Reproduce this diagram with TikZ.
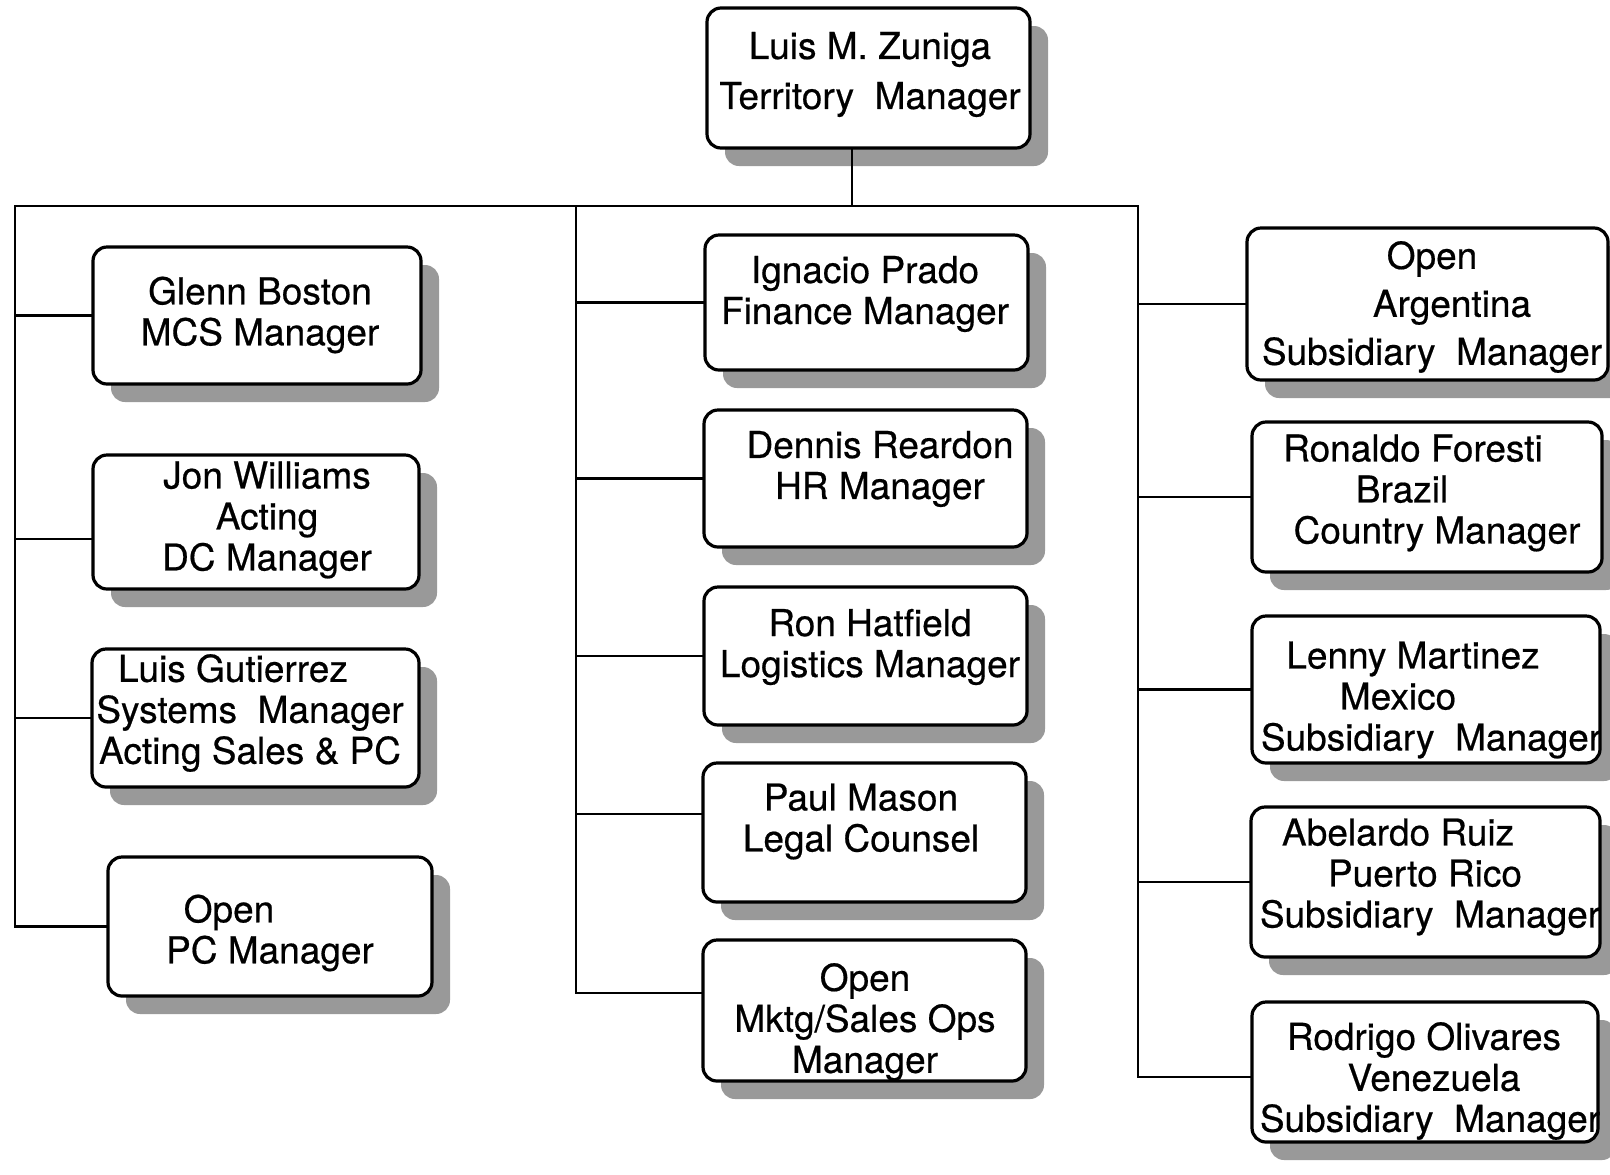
\documentclass[tikz,border=0pt]{standalone}
\usepackage{fontspec}
\setmainfont{TeX Gyre Heros}[FakeBold=0.5]
\usetikzlibrary{shadows}
% shift one line of a centred caption sideways without changing its width
\newcommand\nudge[2]{\hbox{\kern#1\relax #2\kern-#1\relax}}
\begin{document}
\begin{tikzpicture}[x=0.5pt,y=-0.5pt,
  card/.style={draw, line width=1.6pt, rounded corners=7pt, fill=white, inner sep=0pt,
    drop shadow={shadow xshift=9pt, shadow yshift=-9pt, fill=black!40, opacity=1}},
  caption/.style={align=center, inner sep=0pt, font=\fontsize{18.5}{20.5}\selectfont},
  link/.style={line width=1.35pt, line cap=rect}]

\fill[white] (0,0) rectangle (1610,1174);
\useasboundingbox (0,0) rectangle (1610,1174);

% ---- head of territory
\node[card, minimum width=161.5pt, minimum height=70pt] (top) at (868.5,78) {};
\node[caption, font=\fontsize{18.5}{25}\selectfont] (topT) at (870,74.5) {Luis M. Zuniga\\Territory~~Manager};

% ---- left column
\node[card, minimum width=164pt, minimum height=68.5pt] (L1) at (257,315.5) {};
\node[caption] (L1T) at (260,315) {Glenn Boston\\MCS Manager};
\node[card, minimum width=163pt, minimum height=67pt] (L2) at (256,522) {};
\node[caption] (L2T) at (267,520) {Jon Williams\\Acting\\DC Manager};
\node[card, minimum width=163.5pt, minimum height=69pt] (L3) at (255.5,718) {};
\node[caption] (L3T) at (250,713) {\nudge{-8.5pt}{Luis Gutierrez}\\Systems~~Manager\\Acting Sales \& PC};
\node[card, minimum width=162pt, minimum height=69.5pt] (L4) at (270,926.5) {};
\node[caption] (L4T) at (270,933) {\nudge{-20.5pt}{Open}\\PC Manager};

% ---- middle column
\node[card, minimum width=161.5pt, minimum height=67.5pt] (M1) at (866.5,302.5) {};
\node[caption] (M1T) at (865,294) {Ignacio Prado\\Finance Manager};
\node[card, minimum width=161.5pt, minimum height=68.5pt] (M2) at (865.5,478.5) {};
\node[caption] (M2T) at (880,469) {Dennis Reardon\\HR Manager};
\node[card, minimum width=161.5pt, minimum height=69pt] (M3) at (865.5,656) {};
\node[caption] (M3T) at (870,647) {Ron Hatfield\\Logistics Manager};
\node[card, minimum width=161.5pt, minimum height=69.5pt] (M4) at (864.5,832.5) {};
\node[caption] (M4T) at (861,821.5) {Paul Mason\\Legal Counsel};
\node[card, minimum width=161.5pt, minimum height=70.5pt] (M5) at (864.5,1010.5) {};
\node[caption] (M5T) at (865,1022) {Open\\Mktg/Sales Ops\\Manager};

% ---- right column
\node[card, minimum width=180.5pt, minimum height=76pt] (R1) at (1427.5,304) {};
\node[caption, font=\fontsize{18.5}{24}\selectfont] (R1T) at (1432,307) {Open\\\nudge{10pt}{Argentina}\\Subsidiary~~Manager};
\node[card, minimum width=175pt, minimum height=75pt] (R2) at (1427,497) {};
\node[caption] (R2T) at (1425,493) {\nudge{-6pt}{Ronaldo Foresti}\\\nudge{-11.5pt}{Brazil}\\\nudge{6pt}{Country Manager}};
\node[card, minimum width=174pt, minimum height=73.5pt] (R3) at (1426,689.5) {};
\node[caption] (R3T) at (1420,700) {\nudge{-3.5pt}{Lenny Martinez}\\\nudge{-11pt}{Mexico}\\\nudge{5.5pt}{Subsidiary~~Manager}};
\node[card, minimum width=174.5pt, minimum height=75pt] (R4) at (1425.5,882) {};
\node[caption] (R4T) at (1420,877) {\nudge{-11pt}{Abelardo Ruiz}\\\nudge{2.5pt}{Puerto Rico}\\\nudge{5pt}{Subsidiary~~Manager}};
\node[card, minimum width=173pt, minimum height=70pt] (R5) at (1425,1072) {};
\node[caption] (R5T) at (1430,1081) {\nudge{-3pt}{Rodrigo Olivares}\\\nudge{2pt}{Venezuela}\\Subsidiary~~Manager};

% ---- connectors
\coordinate (barL) at (15,206);
\coordinate (barM) at (576,206);
\coordinate (barR) at (1138,206);
\draw[link] (barL) -- (barR);
\draw[link] ([xshift=-8.25pt]top.south) -- ([xshift=-8.25pt]top.south |- barL);

\draw[link] (barL) |- (L4.west);
\draw[link] (L1.west) -- (L1.west -| barL);
\draw[link] ([yshift=-8.5pt]L2.west) -- ([yshift=-8.5pt]L2.west -| barL);
\draw[link] (L3.west) -- (L3.west -| barL);

\draw[link] (barM) |- ([yshift=8.75pt]M5.west);
\draw[link] (M1.west) -- (M1.west -| barM);
\draw[link] (M2.west) -- (M2.west -| barM);
\draw[link] (M3.west) -- (M3.west -| barM);
\draw[link] ([yshift=9.25pt]M4.west) -- ([yshift=9.25pt]M4.west -| barM);

\draw[link] (barR) |- ([yshift=-2.5pt]R5.west);
\draw[link] (R1.west) -- (R1.west -| barR);
\draw[link] (R2.west) -- (R2.west -| barR);
\draw[link] (R3.west) -- (R3.west -| barR);
\draw[link] (R4.west) -- (R4.west -| barR);
\end{tikzpicture}
\end{document}
